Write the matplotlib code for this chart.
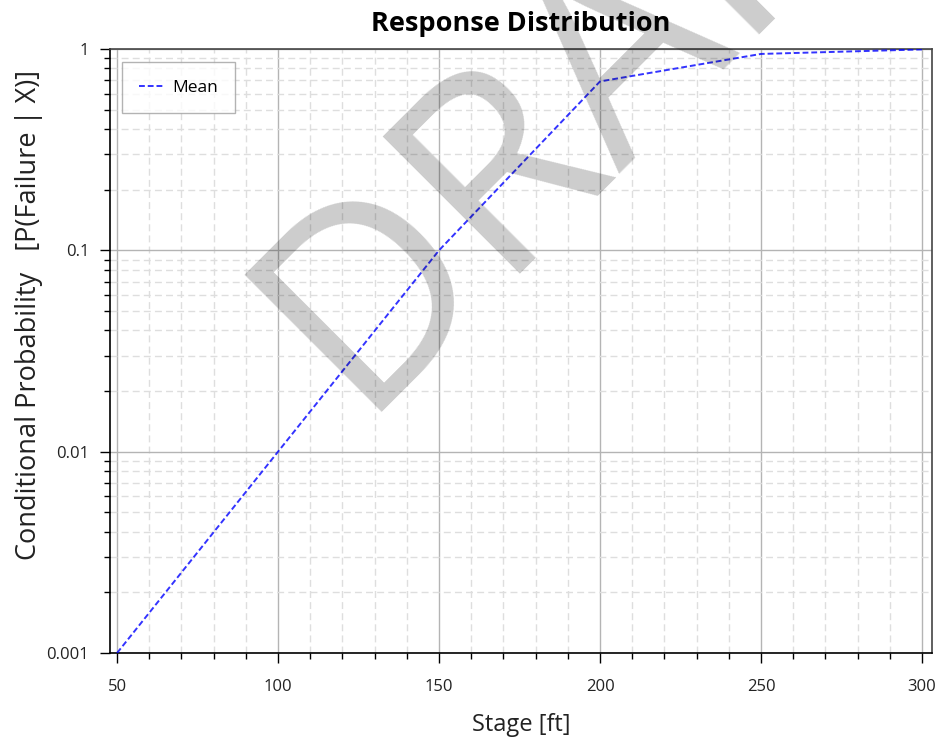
import numpy as np
import matplotlib
matplotlib.use("Agg")
from matplotlib import pyplot as plt
from matplotlib.ticker import FixedLocator, FuncFormatter, NullFormatter, MultipleLocator

# data
stage = [50, 100, 150, 200, 250, 300]
prob_mean = [0.001, 0.01, 0.1, 0.69, 0.945, 0.995]
y_major = [0.001, 0.01, 0.1, 1]
y_labels = ["0.001", "0.01", "0.1", "1"]

plt.rcParams['font.family'] = ['Open Sans', 'DejaVu Sans']

fig = plt.figure(figsize=(9.41, 7.40), dpi=100)
ax = fig.add_axes([0.1169, 0.1176, 0.9904 - 0.1169, 0.9338 - 0.1176])

ax.set_yscale('log')
ax.set_xlim(47.8, 303.1)
ax.set_ylim(0.001, 1)

#grid
ax.xaxis.set_major_locator(MultipleLocator(50))
ax.xaxis.set_minor_locator(MultipleLocator(10))
ax.yaxis.set_major_locator(FixedLocator(y_major))
minors = [m * 10.0**e for e in range(-3, 0) for m in range(2, 10)]
ax.yaxis.set_minor_locator(FixedLocator(minors))
ax.yaxis.set_major_formatter(FuncFormatter(lambda v, p: y_labels[y_major.index(v)] if v in y_major else ""))
ax.yaxis.set_minor_formatter(NullFormatter())

ax.grid(which='major', color='#b4b4b4', linestyle='-', linewidth=1.0)
ax.grid(which='minor', color='#dedede', linestyle=(0, (5, 3)), linewidth=1.0)
ax.set_axisbelow(True)

ax.plot(stage, prob_mean, color='#0000ff', linestyle=(0, (3, 1.5)), linewidth=1.4, alpha=0.8, label='Mean', zorder=3)

ax.tick_params(which='major', direction='out', length=7, width=1, colors='black', labelsize=12, labelcolor='#222222')
ax.tick_params(which='minor', direction='out', length=4, width=1, colors='black')
ax.tick_params(axis='x', pad=12)
ax.tick_params(axis='y', pad=8)

for side in ['left', 'bottom']:
    ax.spines[side].set_color('black')
    ax.spines[side].set_linewidth(1.2)
for side in ['top', 'right']:
    ax.spines[side].set_color('#444444')
    ax.spines[side].set_linewidth(1.2)

ax.set_title("Response Distribution", fontsize=19.5, fontweight='bold', pad=0.5, y=1.028)
ax.set_xlabel("Stage [ft]", fontsize=17, labelpad=13, color='#222222')
ax.set_ylabel("Conditional Probability   [P(Failure | X)]", fontsize=19.5, color='#222222')
ax.yaxis.set_label_coords(-0.081, 0.56)

leg = ax.legend(loc='upper left', bbox_to_anchor=(0.0146, 0.978), borderaxespad=0, fontsize=12.5,
                frameon=True, fancybox=False, borderpad=1.0, handlelength=1.5, handletextpad=0.4)
leg.get_frame().set_edgecolor('#a0a0a0')
leg.get_frame().set_linewidth(1.0)

# watermark
fig.text(0.3773, 0.4432, "DRAFT", fontsize=195, color='black', alpha=0.2,
         rotation=45, rotation_mode='anchor', ha='left', va='baseline', zorder=10)

fig.savefig("out.png", dpi=100)
